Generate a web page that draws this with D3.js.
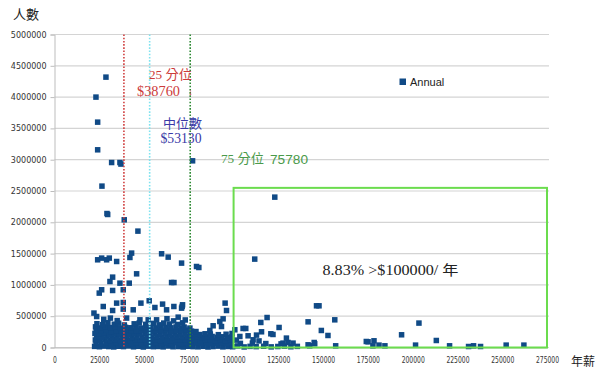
<!DOCTYPE html>
<html>
<head>
<meta charset="utf-8">
<script src="https://cdn.jsdelivr.net/npm/d3@7"></script>
<style>
  body { margin: 0; background: #fff; }
  svg { display: block; }
</style>
</head>
<body>
<div id="chart"></div>
<script>
// salary (x) vs number of people (y), series "Annual"
const seriesName = 'Annual';

const tallPoints = [
    [28730, 4319000], [23150, 4000000], [24100, 3600000], [24100, 3158000],
    [31900, 2955000], [36540, 2955000], [37100, 2930000], [77100, 2982000],
    [26500, 2578000], [29290, 2140000], [29700, 2125000], [38940, 2040000],
    [46580, 1859000], [123000, 2402000], [111800, 1412000]
];

const midPoints = [
    [24100, 1401000], [26330, 1428000], [29110, 1401000], [30590, 1428000], [34700, 1374000],
    [42110, 1438000], [43060, 1508000], [59800, 1497000], [63480, 1444000], [70950, 1348000],
    [79300, 1294000], [80600, 1278000], [45850, 1177000], [32460, 1124000], [30960, 1054000],
    [36540, 1028000], [41730, 1028000], [26330, 922000], [24990, 869000], [32460, 911000],
    [38380, 922000], [65370, 1038000], [66700, 1038000],
    [34700, 709000], [38380, 719000], [27220, 655000], [32460, 591000], [38380, 613000],
    [43950, 602000], [48250, 709000], [52880, 746000], [60350, 693000], [56060, 639000],
    [62580, 602000], [66650, 655000], [71290, 655000], [70950, 629000], [71500, 682000],
    [95270, 709000], [96050, 591000], [146300, 666000], [147700, 666000]
];

const lowPoints = [
    // ~0-30k
    [22400, 18000], [25100, 12000], [27600, 22000], [30300, 15000], [33100, 9000], [35800, 20000],
    [38500, 14000], [41400, 24000], [44100, 11000], [46900, 19000], [49600, 8000], [52400, 21000],
    [55200, 13000], [57900, 17000], [60700, 10000], [63600, 23000], [66200, 12000], [69100, 16000],
    [71900, 9000], [74700, 20000], [77400, 14000], [80200, 11000], [83000, 19000], [85700, 8000],
    [88500, 15000], [91300, 22000], [94000, 10000], [96800, 17000], [99500, 12000], [102300, 25000],
    [105900, 9000], [109200, 18000], [112600, 14000], [116800, 20000], [121000, 10000], [124700, 16000],
    [128400, 22000], [132000, 12000], [135600, 18000], [142500, 27000], [145300, 59000], [157000, 27000],
    [175100, 91000], [178400, 107000], [177800, 27000], [181200, 38000], [184500, 27000], [193800, 203000],
    [201600, 38000], [203500, 390000], [213200, 112000], [220600, 27000], [231200, 16000], [234000, 27000],
    [237900, 16000], [252200, 38000], [262100, 38000], [141600, 43000], [174100, 96000],
    // ~60-80k
    [23200, 70000], [26000, 62000], [28900, 75000], [31700, 58000], [34500, 80000], [37300, 66000],
    [40100, 72000], [42900, 60000], [45800, 78000], [48600, 64000], [51400, 70000], [54100, 59000],
    [57000, 76000], [59800, 67000], [62500, 73000], [65300, 61000], [68200, 79000], [71000, 65000],
    [73800, 71000], [76600, 58000], [79300, 74000], [82100, 63000], [84900, 77000], [87700, 60000],
    [90400, 69000], [93200, 75000], [96000, 62000], [98800, 72000], [103800, 66000], [110500, 71000],
    [118000, 63000], [126500, 58000], [130400, 80000], [127600, 70000], [133200, 70000], [145000, 80000],
    // ~110-130k
    [22800, 120000], [25500, 112000], [28300, 128000], [31100, 108000], [33900, 125000], [36700, 115000],
    [39600, 130000], [42400, 110000], [45200, 122000], [48000, 117000], [50800, 128000], [53600, 106000],
    [56400, 124000], [59200, 114000], [62000, 131000], [64800, 109000], [67600, 121000], [70400, 116000],
    [73200, 127000], [76000, 111000], [78800, 123000], [81600, 107000], [84400, 119000], [87100, 126000],
    [89900, 113000], [92700, 121000], [95500, 108000], [98300, 125000], [101500, 118000], [110900, 123000],
    [114200, 105000], [129500, 150000],
    // ~160-180k
    [23600, 170000], [26400, 162000], [29200, 178000], [32000, 158000], [34800, 175000], [37600, 165000],
    [40400, 180000], [43200, 160000], [46000, 172000], [48900, 167000], [51700, 178000], [54500, 156000],
    [57300, 174000], [60100, 164000], [62900, 181000], [65700, 159000], [68500, 171000], [71300, 166000],
    [74100, 177000], [76900, 161000], [79700, 173000], [82500, 157000], [85200, 169000], [88000, 176000],
    [90800, 163000], [93600, 171000], [96400, 158000], [99000, 168000], [103500, 176000], [108100, 187000],
    [112800, 198000], [152700, 192000],
    // ~210-230k
    [22600, 225000], [25200, 212000], [28000, 228000], [30800, 208000], [33600, 225000], [36400, 215000],
    [39200, 232000], [42000, 210000], [44800, 222000], [47600, 217000], [50500, 228000], [53300, 206000],
    [56100, 224000], [58900, 214000], [61700, 231000], [64500, 209000], [67300, 221000], [70100, 216000],
    [72900, 227000], [75700, 211000], [78500, 223000], [81300, 207000], [84100, 219000], [87000, 215000],
    [91500, 205000], [95800, 212000], [99100, 224000], [120800, 219000], [122000, 208000], [115600, 251000],
    // ~260-280k
    [23300, 270000], [26100, 262000], [28900, 278000], [31700, 258000], [34500, 275000], [37300, 265000],
    [40100, 282000], [42900, 260000], [45700, 272000], [48500, 267000], [51300, 278000], [54100, 256000],
    [56900, 274000], [59700, 264000], [62500, 281000], [65300, 259000], [68100, 271000], [70900, 266000],
    [73700, 277000], [76500, 261000], [79000, 255000], [86740, 272000], [100700, 283000], [149000, 272000],
    // ~310-330k
    [22900, 330000], [25700, 312000], [28500, 328000], [31300, 318000], [34100, 325000], [36900, 308000],
    [39700, 322000], [42600, 315000], [45400, 330000], [48200, 310000], [51000, 326000], [53900, 318000],
    [56700, 312000], [59500, 328000], [62300, 320000], [65100, 314000], [67900, 329000], [70700, 311000],
    [72400, 326000], [75600, 310000], [88580, 347000], [93250, 335000], [105300, 304000], [106800, 304000],
    [125400, 320000],
    // ~360-400k
    [23700, 380000], [26900, 365000], [29800, 395000], [33400, 372000], [35800, 388000], [39000, 360000],
    [44500, 378000], [47300, 392000], [50900, 370000], [55200, 385000], [58400, 362000], [61000, 390000],
    [64200, 375000], [68800, 368000], [71500, 394000], [115200, 400000], [92310, 415000],
    // ~420-550k
    [22030, 550000], [23540, 495000], [27500, 450000], [31200, 470000], [35000, 430000], [40270, 470000],
    [47690, 442000], [52320, 442000], [57000, 442000], [62800, 460000], [66500, 425000], [69060, 485000],
    [73000, 440000], [94150, 458000], [118700, 479000], [141600, 410000], [156500, 442000]
];

const xTicks = [0, 25000, 50000, 75000, 100000, 125000, 150000, 175000, 200000, 225000, 250000, 275000];
const yTicks = [0, 500000, 1000000, 1500000, 2000000, 2500000, 3000000, 3500000, 4000000, 4500000, 5000000];

const quartileNames = ['25 分位', '中位數', '75 分位'];
const quartileValues = [38760, 53130, 75780];
const boxRange = {x0: 100000, x1: 275000, y0: 0, y1: 2550000};
const boxLabel = '8.83% >$100000/ 年';

function drawChart()
{
    const width = 600;
    const height = 375;
    const plot = {left: 54.5, right: 547, top: 34.5, bottom: 347.5};

    const svg = d3.select('#chart').append('svg')
        .attr('width', width)
        .attr('height', height);

    const x = d3.scaleLinear().domain([0, 275000]).range([plot.left, plot.right]);
    const y = d3.scaleLinear().domain([0, 5000000]).range([plot.bottom, plot.top]);

    // horizontal grid
    svg.append('g')
        .selectAll('line')
        .data(yTicks)
        .join('line')
            .attr('x1', plot.left)
            .attr('x2', plot.right + 2)
            .attr('y1', d => y(d))
            .attr('y2', d => y(d))
            .attr('stroke', '#d4d4d4')
            .attr('stroke-width', 1.2);

    const yAxis = svg.append('g')
        .attr('transform', `translate(${plot.left}, 0)`)
        .call(d3.axisLeft(y).tickValues(yTicks).tickFormat(d3.format('d')).tickSize(4).tickPadding(4));
    yAxis.select('.domain').attr('stroke', '#bdbdbd');
    yAxis.selectAll('line').attr('stroke', '#bdbdbd');
    yAxis.selectAll('text')
        .attr('fill', '#333')
        .style('font-family', 'DejaVu Sans')
        .style('font-size', '8px');

    const xAxis = svg.append('g')
        .attr('transform', `translate(0, ${plot.bottom})`)
        .call(d3.axisBottom(x).tickValues(xTicks).tickFormat(d3.format('d')).tickSize(0).tickPadding(10));
    xAxis.select('.domain').attr('stroke', '#bdbdbd');
    xAxis.selectAll('text')
        .attr('fill', '#333')
        .style('font-family', 'DejaVu Sans')
        .style('font-size', '8px')
        .attr('textLength', d => String(d).length * 3.85)
        .attr('lengthAdjust', 'spacingAndGlyphs');

    // points
    const allPoints = lowPoints.concat(midPoints, tallPoints);
    const s = 5.5;
    svg.append('g')
        .selectAll('rect')
        .data(allPoints)
        .join('rect')
            .attr('x', d => x(d[0]) - s / 2)
            .attr('y', d => y(d[1]) - s / 2)
            .attr('width', s)
            .attr('height', s)
            .attr('fill', '#104a86');

    // quartile lines
    const lineColors = ['#d04040', '#7fe3ef', '#2f8a35'];
    svg.append('g')
        .selectAll('line')
        .data(quartileValues)
        .join('line')
            .attr('x1', d => x(d))
            .attr('x2', d => x(d))
            .attr('y1', plot.top)
            .attr('y2', plot.bottom)
            .attr('stroke', (d, i) => lineColors[i])
            .attr('stroke-width', 1.6)
            .style('stroke-dasharray', '1.6, 1.6');

    // box over >100000
    svg.append('rect')
        .attr('x', x(boxRange.x0))
        .attr('y', y(boxRange.y1))
        .attr('width', x(boxRange.x1) - x(boxRange.x0))
        .attr('height', y(boxRange.y0) - y(boxRange.y1))
        .attr('fill', 'none')
        .attr('stroke', '#6bdc4e')
        .attr('stroke-width', 2);

    const serif = '"Liberation Serif", "Noto Sans CJK TC", serif';

    function label(txt, px, py, color, size, len, family)
    {
        svg.append('text')
            .attr('x', px)
            .attr('y', py)
            .attr('fill', color)
            .style('font-family', family || serif)
            .style('font-size', size + 'px')
            .attr('textLength', len)
            .attr('lengthAdjust', 'spacingAndGlyphs')
            .text(txt);
    }

    label(quartileNames[0], 149, 79, '#cc3b3b', 13, 43);
    label('$' + quartileValues[0], 137, 96, '#cc3b3b', 14, 43);
    label('↓', 188, 95, '#cc3b3b', 9, 5);
    label(quartileNames[1], 163, 128, '#3a3aa6', 13, 39);
    label('$' + quartileValues[1], 160.5, 143, '#3a3aa6', 14, 41);
    label(quartileNames[2], 221, 163, '#4a9a4a', 13, 43);
    label(String(quartileValues[2]), 270, 164, '#4a9a4a', 13.5, 38, '"Liberation Sans", sans-serif');
    label(boxLabel, 322.5, 275, '#222', 14, 136);

    // legend
    svg.append('rect')
        .attr('x', 399.5)
        .attr('y', 78.5)
        .attr('width', 6.5)
        .attr('height', 6.5)
        .attr('fill', '#104a86');
    svg.append('text')
        .attr('x', 410)
        .attr('y', 86)
        .attr('fill', '#222')
        .style('font-family', '"Liberation Sans", sans-serif')
        .style('font-size', '11px')
        .text(seriesName);

    // axis titles
    label('人數', 13, 18.5, '#222', 13, 26, '"Noto Sans CJK TC", sans-serif');
    label('年薪', 571, 366, '#222', 12, 24, '"Noto Sans CJK TC", sans-serif');
}

drawChart();
</script>
</body>
</html>
